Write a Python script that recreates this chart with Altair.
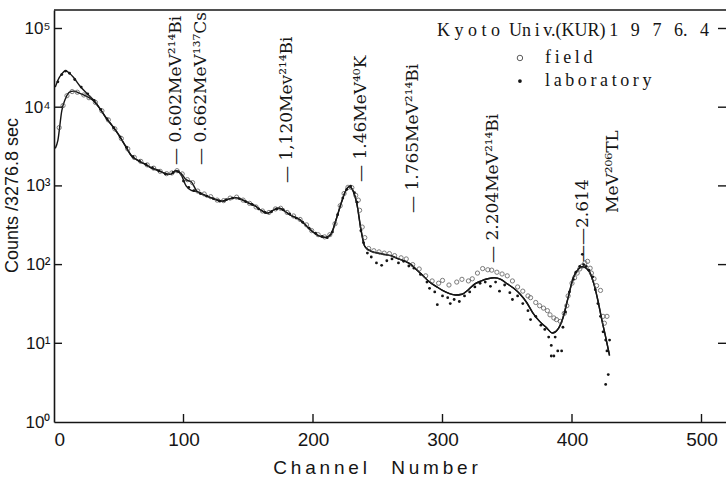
import altair as alt
import pandas as pd

# ---------------- data ----------------
line_ch = [1, 3, 6, 9, 12, 15, 20, 25, 30, 35, 40, 45, 50, 55, 60, 65, 70, 75, 80, 85, 90,
           94, 98, 102, 106, 110, 115, 120, 125, 130, 135, 140, 145, 150, 155, 160, 165, 170,
           174, 178, 182, 186, 190, 195, 200, 205, 210, 214, 218, 222, 225, 228, 231, 234, 237,
           240, 244, 248, 252, 256, 260, 265, 270, 275, 280, 285, 290, 295, 300, 305, 310, 315,
           320, 325, 330, 335, 340, 345, 350, 355, 360, 365, 370, 375, 380, 385, 389, 393, 397,
           401, 405, 408, 411, 414, 417, 420, 423, 426, 429]
line_field = [3000, 3800, 9000, 13000, 15500, 16000, 15000, 13800, 12300, 9800, 7400, 5800, 4450,
              3250, 2400, 2100, 1900, 1700, 1580, 1450, 1400, 1560, 1450, 1200, 1130, 870, 780,
              720, 670, 640, 680, 710, 670, 610, 560, 490, 450, 500, 520, 480, 430, 400, 370, 310,
              260, 230, 222, 245, 380, 620, 850, 980, 860, 580, 280, 170, 150, 142, 138, 134, 130,
              120, 112, 102, 86, 72, 60, 53, 47, 43, 41, 42, 48, 57, 62, 66, 68, 65, 57, 50, 42,
              33, 24, 19, 16, 13.5, 15, 21, 38, 68, 88, 94, 90, 78, 56, 35, 20, 12, 7]
line_lab = [18000, 22000, 26500, 29000, 27000, 24000, 18600, 15200, 12600, 9900, 7400, 5800, 4450,
            3250, 2400, 2100, 1900, 1700, 1580, 1450, 1400, 1560, 1400, 1000, 880, 850, 780,
            720, 670, 640, 680, 710, 670, 610, 560, 490, 450, 500, 520, 480, 430, 400, 370, 310,
            260, 230, 222, 245, 380, 620, 850, 980, 860, 580, 280, 170, 150, 142, 138, 134, 130,
            120, 112, 102, 86, 72, 60, 53, 47, 43, 41, 42, 48, 57, 62, 66, 68, 65, 57, 50, 42,
            33, 24, 19, 16, 13.5, 15, 21, 38, 68, 88, 94, 90, 78, 56, 35, 20, 12, 7]

field_ch = [4, 7, 10, 14, 18, 23, 27, 32, 37, 42, 47, 52, 57, 62, 67, 72, 77, 82, 87, 91,
            95, 99, 103, 107, 111, 116, 121, 126, 131, 136, 141, 146, 151, 156, 161, 166, 171, 175, 180, 185,
            190, 195, 199, 204, 209, 213, 217, 221, 224, 227, 230, 233, 235, 236, 238, 240, 243, 247, 251, 255,
            259, 263, 268, 272, 277, 282, 287, 292, 297, 300, 305, 311, 315, 320, 323, 327, 331, 335, 338, 342,
            346, 350, 354, 358, 362, 366, 368, 372, 375, 378, 381, 383, 386, 388, 391, 394, 396, 397, 400, 402,
            404, 406, 408, 410, 412, 414, 415, 417, 419, 422, 424, 425, 427]
field_cnt = [5500, 10500, 14000, 15800, 15500, 14300, 13200, 11500, 9000, 6900, 5300, 4000, 2950, 2300, 2050, 1850, 1680, 1530, 1430, 1460,
             1560, 1420, 1200, 1100, 860, 790, 730, 660, 650, 700, 720, 660, 600, 540, 480, 460, 510, 520, 460, 415,
             375, 320, 270, 240, 225, 240, 330, 560, 800, 960, 950, 760, 660, 490, 300, 220, 160, 150, 145, 140,
             138, 130, 122, 118, 100, 88, 72, 62, 58, 63, 55, 60, 65, 62, 66, 78, 89, 86, 85, 80,
             76, 72, 62, 52, 46, 40, 38, 33, 30, 28, 26, 23, 21, 20, 19, 24, 30, 40, 58, 68,
             78, 88, 96, 105, 110, 90, 78, 66, 54, 47, 22, 18, 22]

lab_ch = [3, 6, 9, 12, 16, 21, 26, 31, 36, 41, 46, 51, 56, 61, 66, 71, 76, 81, 86, 92,
          96, 100, 104, 108, 113, 118, 123, 128, 133, 138, 143, 148, 153, 158, 163, 168, 172, 177, 182, 187,
          192, 197, 202, 207, 211, 215, 219, 223, 226, 229, 232, 234, 237, 239, 242, 245, 249, 253, 257, 261,
          266, 270, 274, 278, 283, 288, 290, 294, 296, 300, 304, 306, 309, 313, 317, 321, 325, 329, 333, 337,
          341, 344, 348, 352, 354, 358, 362, 366, 368, 372, 376, 379, 382, 384, 384, 386, 387, 389, 392, 393,
          395, 398, 401, 403, 406, 408, 409, 411, 413, 416, 418, 420, 422, 424, 426, 427, 428, 426, 429]
lab_cnt = [21000, 26000, 28800, 27000, 22500, 18000, 14800, 12200, 9400, 7100, 5500, 4200, 3100, 2350, 2080, 1880, 1700, 1550, 1420, 1480,
           1520, 1150, 960, 870, 800, 740, 690, 640, 670, 700, 690, 630, 580, 510, 460, 470, 510, 500, 440, 390,
           345, 290, 250, 228, 220, 260, 430, 700, 900, 990, 820, 620, 270, 190, 140, 125, 105, 98, 112, 118,
           105, 110, 96, 90, 75, 60, 50, 45, 31, 40, 38, 32, 36, 34, 40, 45, 52, 58, 60, 53,
           60, 46, 55, 44, 36, 40, 32, 26, 20, 22, 17, 15, 12, 9.4, 6.9, 6.9, 12, 8, 8, 16,
           25, 45, 65, 80, 95, 135, 100, 95, 85, 70, 48, 32, 22, 14, 11, 8, 4, 3, 11]

ann_text = ["\u2014 0.602MeV\u00b2\u00b9\u2074Bi", "\u2014 0.662MeV\u00b9\u00b3\u2077Cs",
            "\u2014 1,120Mev\u00b2\u00b9\u2074Bi", "\u2014 1.46MeV\u2074\u2070K",
            "\u2014 1.765MeV\u00b2\u00b9\u2074Bi", "\u2014 2.204MeV\u00b2\u00b9\u2074Bi",
            "\u2014\u20142.614", "MeV\u00b2\u2070\u2076TL"]
ann_ch = [94.2, 113.5, 179.9, 237.1, 277.2, 339.0, 408.5, 431.7]
ann_cnt = [1845, 1845, 1088, 1121, 453, 105, 108, 453]

header_text = ["K y o t o\u2002Un\u2009i\u2009v.(KUR)\u20091\u2002\u20099\u2002\u20097\u2002\u20096.\u2002\u20094"]
header_ch = [295.8]
header_cnt = [93000]

legend_labels = ["f\u2009i\u2009e\u2009l\u2009d", "l\u2009a\u2009b\u2009o\u2009r\u2009a\u2009t\u2009o\u2009r\u2009y"]
legend_sym_ch = [359.8, 359.8]
legend_text_ch = [379.2, 379.2]
legend_cnt = [42200, 21500]

x_tick_values = [100, 200, 300, 400, 500]
x_label_values = [0, 100, 200, 300, 400, 500]
y_tick_values = [10, 100, 1000, 10000, 100000]
y_label_values = [1, 10, 100, 1000, 10000, 100000]

# ---------------- geometry ----------------
W, H = 672, 412
X_MAX = W / 1.295
Y_MAX = 10 ** (H / 78.7)
INK = "#151515"
SANS = "Liberation Sans"
SERIF = "DejaVu Serif"
HEAD_SERIF = "Liberation Serif"

xs = alt.Scale(domain=[0, X_MAX], nice=False, zero=False)
ys = alt.Scale(type="log", domain=[1, Y_MAX], nice=False)

lines_df = pd.DataFrame({
    "ch": line_ch * 2,
    "cnt": line_field + line_lab,
    "series": ["field"] * len(line_ch) + ["laboratory"] * len(line_ch),
})
field_df = pd.DataFrame({"ch": field_ch, "cnt": field_cnt})
lab_df = pd.DataFrame({"ch": lab_ch, "cnt": lab_cnt})
ann_df = pd.DataFrame({"ch": ann_ch, "cnt": ann_cnt, "t": ann_text})
head_df = pd.DataFrame({"ch": header_ch, "cnt": header_cnt, "t": header_text})
leg_df = pd.DataFrame({"sch": legend_sym_ch, "tch": legend_text_ch, "cnt": legend_cnt,
                       "t": legend_labels, "kind": ["field", "laboratory"]})
xt_df = pd.DataFrame({"ch": x_tick_values})
yt_df = pd.DataFrame({"cnt": y_tick_values})

y_label_expr = ("datum.value < 5 ? '10\u2070' : datum.value < 50 ? '10\u00b9' : "
                "datum.value < 500 ? '10\u00b2' : datum.value < 5000 ? '10\u00b3' : "
                "datum.value < 50000 ? '10\u2074' : '10\u2075'")

x_axis = alt.Axis(values=x_label_values, ticks=False, grid=False, domain=True,
                  domainColor=INK, domainWidth=1.6, labelFont=SANS, labelFontSize=19,
                  labelColor=INK, labelPadding=8,
                  title="C\u2009h\u2009a\u2009n\u2009n\u2009e\u2009l\u2003 N\u2009u\u2009m\u2009b\u2009e\u2009r",
                  titleFont=SANS, titleFontSize=19, titleFontWeight="normal", titleColor=INK,
                  titleX=321, titleY=45, titleBaseline="middle", titleAlign="center")
y_axis = alt.Axis(values=y_label_values, ticks=False, grid=False, domain=True,
                  domainColor=INK, domainWidth=1.6, labelFont=SANS, labelFontSize=17,
                  labelColor=INK, labelPadding=4, labelExpr=y_label_expr,
                  title="Counts /3276.8 sec", titleFont=SANS, titleFontSize=18,
                  titleFontWeight="normal", titleColor=INK, titleX=-42, titleY=185,
                  titleAlign="center", titleBaseline="middle")

lines = alt.Chart(lines_df).mark_line(color=INK, strokeWidth=1.4, interpolate="monotone").encode(
    x=alt.X("ch:Q", scale=xs, axis=x_axis),
    y=alt.Y("cnt:Q", scale=ys, axis=y_axis),
    detail="series:N",
)
field_pts = alt.Chart(field_df).mark_point(shape="circle", filled=False, size=18, color="#444",
                                           strokeWidth=1.0).encode(
    x=alt.X("ch:Q", scale=xs), y=alt.Y("cnt:Q", scale=ys))
lab_pts = alt.Chart(lab_df).mark_circle(size=8, color=INK, opacity=1).encode(
    x=alt.X("ch:Q", scale=xs), y=alt.Y("cnt:Q", scale=ys))

ann = alt.Chart(ann_df).mark_text(angle=270, align="left", baseline="middle", font=SERIF,
                                  fontSize=17, color=INK).encode(
    x=alt.X("ch:Q", scale=xs), y=alt.Y("cnt:Q", scale=ys), text="t:N")
head = alt.Chart(head_df).mark_text(align="left", baseline="middle", font=HEAD_SERIF,
                                    fontSize=18, color=INK).encode(
    x=alt.X("ch:Q", scale=xs), y=alt.Y("cnt:Q", scale=ys), text="t:N")
leg_text = alt.Chart(leg_df).mark_text(align="left", baseline="middle", font=HEAD_SERIF,
                                       fontSize=18, color=INK).encode(
    x=alt.X("tch:Q", scale=xs), y=alt.Y("cnt:Q", scale=ys), text="t:N")
leg_open = alt.Chart(leg_df).transform_filter(alt.datum.kind == "field").mark_point(
    shape="circle", filled=False, size=30, color=INK, strokeWidth=1).encode(
    x=alt.X("sch:Q", scale=xs), y=alt.Y("cnt:Q", scale=ys))
leg_dot = alt.Chart(leg_df).transform_filter(alt.datum.kind == "laboratory").mark_circle(
    size=14, color=INK, opacity=1).encode(
    x=alt.X("sch:Q", scale=xs), y=alt.Y("cnt:Q", scale=ys))

# inward ticks and top frame line
xticks = alt.Chart(xt_df).mark_rule(color=INK, strokeWidth=1.4).encode(
    x=alt.X("ch:Q", scale=xs), y=alt.value(H), y2=alt.value(H - 8))
yticks_l = alt.Chart(yt_df).mark_rule(color=INK, strokeWidth=1.4).encode(
    y=alt.Y("cnt:Q", scale=ys), x=alt.value(0), x2=alt.value(8))
yticks_r = alt.Chart(yt_df).mark_rule(color=INK, strokeWidth=1.4).encode(
    y=alt.Y("cnt:Q", scale=ys), x=alt.value(W - 8), x2=alt.value(W))
top_line = alt.Chart(pd.DataFrame({"a": [0]})).mark_rule(color=INK, strokeWidth=1.6).encode(
    x=alt.value(0), x2=alt.value(W), y=alt.value(0))

chart = alt.layer(
    lines, field_pts, lab_pts, ann, head, leg_text, leg_open, leg_dot,
    xticks, yticks_l, yticks_r, top_line,
).properties(
    width=W, height=H,
    autosize=alt.AutoSizeParams(type="none"),
    padding={"left": 54, "top": 10, "right": 0, "bottom": 58},
    background="white",
).configure_view(stroke=None)

chart.save("out.html", embed_options={"renderer": "svg", "actions": False})
